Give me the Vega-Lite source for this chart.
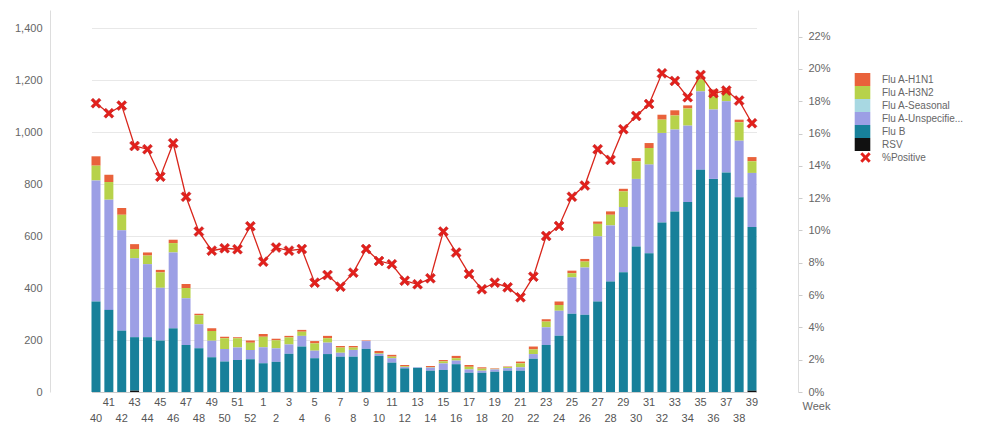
{
  "$schema": "https://vega.github.io/schema/vega-lite/v6.json",
  "autosize": "none",
  "width": 748,
  "height": 382,
  "padding": {"left": 50, "top": 10, "right": 188, "bottom": 35},
  "background": "white",
  "config": {
    "view": {"stroke": null},
    "font": "Liberation Sans",
    "legend": {"padding": 0}
  },
  "data": {
    "values": [
      {"week": 40, "Flu B": 348, "Flu A-Unspecified": 466, "Flu A-Seasonal": 0, "Flu A-H3N2": 57, "Flu A-H1N1": 36, "RSV": 0, "pct": 0.1788},
      {"week": 41, "Flu B": 316, "Flu A-Unspecified": 424, "Flu A-Seasonal": 0, "Flu A-H3N2": 68, "Flu A-H1N1": 28, "RSV": 0, "pct": 0.1726},
      {"week": 42, "Flu B": 236, "Flu A-Unspecified": 386, "Flu A-Seasonal": 0, "Flu A-H3N2": 60, "Flu A-H1N1": 26, "RSV": 0, "pct": 0.1773},
      {"week": 43, "Flu B": 206, "Flu A-Unspecified": 304, "Flu A-Seasonal": 0, "Flu A-H3N2": 35, "Flu A-H1N1": 19, "RSV": 5, "pct": 0.1523},
      {"week": 44, "Flu B": 211, "Flu A-Unspecified": 281, "Flu A-Seasonal": 0, "Flu A-H3N2": 33, "Flu A-H1N1": 12, "RSV": 0, "pct": 0.1503},
      {"week": 45, "Flu B": 198, "Flu A-Unspecified": 203, "Flu A-Seasonal": 0, "Flu A-H3N2": 59, "Flu A-H1N1": 10, "RSV": 0, "pct": 0.1333},
      {"week": 46, "Flu B": 245, "Flu A-Unspecified": 292, "Flu A-Seasonal": 0, "Flu A-H3N2": 36, "Flu A-H1N1": 13, "RSV": 0, "pct": 0.1540},
      {"week": 47, "Flu B": 181, "Flu A-Unspecified": 180, "Flu A-Seasonal": 0, "Flu A-H3N2": 39, "Flu A-H1N1": 16, "RSV": 0, "pct": 0.1209},
      {"week": 48, "Flu B": 168, "Flu A-Unspecified": 93, "Flu A-Seasonal": 0, "Flu A-H3N2": 34, "Flu A-H1N1": 6, "RSV": 0, "pct": 0.0993},
      {"week": 49, "Flu B": 134, "Flu A-Unspecified": 63, "Flu A-Seasonal": 0, "Flu A-H3N2": 38, "Flu A-H1N1": 10, "RSV": 0, "pct": 0.0875},
      {"week": 50, "Flu B": 117, "Flu A-Unspecified": 48, "Flu A-Seasonal": 0, "Flu A-H3N2": 42, "Flu A-H1N1": 6, "RSV": 0, "pct": 0.0890},
      {"week": 51, "Flu B": 123, "Flu A-Unspecified": 48, "Flu A-Seasonal": 0, "Flu A-H3N2": 36, "Flu A-H1N1": 4, "RSV": 0, "pct": 0.0884},
      {"week": 52, "Flu B": 126, "Flu A-Unspecified": 36, "Flu A-Seasonal": 0, "Flu A-H3N2": 28, "Flu A-H1N1": 8, "RSV": 0, "pct": 0.1026},
      {"week": 1, "Flu B": 111, "Flu A-Unspecified": 61, "Flu A-Seasonal": 0, "Flu A-H3N2": 41, "Flu A-H1N1": 10, "RSV": 0, "pct": 0.0807},
      {"week": 2, "Flu B": 116, "Flu A-Unspecified": 52, "Flu A-Seasonal": 0, "Flu A-H3N2": 31, "Flu A-H1N1": 6, "RSV": 0, "pct": 0.0894},
      {"week": 3, "Flu B": 147, "Flu A-Unspecified": 36, "Flu A-Seasonal": 0, "Flu A-H3N2": 27, "Flu A-H1N1": 6, "RSV": 0, "pct": 0.0875},
      {"week": 4, "Flu B": 175, "Flu A-Unspecified": 41, "Flu A-Seasonal": 0, "Flu A-H3N2": 16, "Flu A-H1N1": 7, "RSV": 0, "pct": 0.0885},
      {"week": 5, "Flu B": 130, "Flu A-Unspecified": 29, "Flu A-Seasonal": 0, "Flu A-H3N2": 28, "Flu A-H1N1": 9, "RSV": 0, "pct": 0.0677},
      {"week": 6, "Flu B": 146, "Flu A-Unspecified": 44, "Flu A-Seasonal": 0, "Flu A-H3N2": 17, "Flu A-H1N1": 9, "RSV": 0, "pct": 0.0724},
      {"week": 7, "Flu B": 136, "Flu A-Unspecified": 15, "Flu A-Seasonal": 0, "Flu A-H3N2": 20, "Flu A-H1N1": 6, "RSV": 0, "pct": 0.0652},
      {"week": 8, "Flu B": 136, "Flu A-Unspecified": 26, "Flu A-Seasonal": 0, "Flu A-H3N2": 9, "Flu A-H1N1": 6, "RSV": 0, "pct": 0.0739},
      {"week": 9, "Flu B": 166, "Flu A-Unspecified": 30, "Flu A-Seasonal": 0, "Flu A-H3N2": 0, "Flu A-H1N1": 2, "RSV": 0, "pct": 0.0885},
      {"week": 10, "Flu B": 139, "Flu A-Unspecified": 8, "Flu A-Seasonal": 0, "Flu A-H3N2": 3, "Flu A-H1N1": 8, "RSV": 0, "pct": 0.0811},
      {"week": 11, "Flu B": 113, "Flu A-Unspecified": 17, "Flu A-Seasonal": 0, "Flu A-H3N2": 6, "Flu A-H1N1": 7, "RSV": 0, "pct": 0.0791},
      {"week": 12, "Flu B": 91, "Flu A-Unspecified": 5, "Flu A-Seasonal": 0, "Flu A-H3N2": 3, "Flu A-H1N1": 5, "RSV": 0, "pct": 0.0689},
      {"week": 13, "Flu B": 93, "Flu A-Unspecified": 2, "Flu A-Seasonal": 0, "Flu A-H3N2": 0, "Flu A-H1N1": 0, "RSV": 0, "pct": 0.0667},
      {"week": 14, "Flu B": 82, "Flu A-Unspecified": 12, "Flu A-Seasonal": 0, "Flu A-H3N2": 2, "Flu A-H1N1": 4, "RSV": 0, "pct": 0.0704},
      {"week": 15, "Flu B": 85, "Flu A-Unspecified": 25, "Flu A-Seasonal": 0, "Flu A-H3N2": 8, "Flu A-H1N1": 5, "RSV": 0, "pct": 0.0993},
      {"week": 16, "Flu B": 107, "Flu A-Unspecified": 14, "Flu A-Seasonal": 0, "Flu A-H3N2": 9, "Flu A-H1N1": 9, "RSV": 0, "pct": 0.0863},
      {"week": 17, "Flu B": 74, "Flu A-Unspecified": 13, "Flu A-Seasonal": 0, "Flu A-H3N2": 10, "Flu A-H1N1": 7, "RSV": 0, "pct": 0.0731},
      {"week": 18, "Flu B": 74, "Flu A-Unspecified": 8, "Flu A-Seasonal": 0, "Flu A-H3N2": 8, "Flu A-H1N1": 5, "RSV": 0, "pct": 0.0636},
      {"week": 19, "Flu B": 78, "Flu A-Unspecified": 9, "Flu A-Seasonal": 0, "Flu A-H3N2": 2, "Flu A-H1N1": 2, "RSV": 0, "pct": 0.0677},
      {"week": 20, "Flu B": 82, "Flu A-Unspecified": 10, "Flu A-Seasonal": 0, "Flu A-H3N2": 4, "Flu A-H1N1": 2, "RSV": 0, "pct": 0.0648},
      {"week": 21, "Flu B": 82, "Flu A-Unspecified": 13, "Flu A-Seasonal": 0, "Flu A-H3N2": 15, "Flu A-H1N1": 7, "RSV": 0, "pct": 0.0586},
      {"week": 22, "Flu B": 128, "Flu A-Unspecified": 18, "Flu A-Seasonal": 0, "Flu A-H3N2": 18, "Flu A-H1N1": 11, "RSV": 0, "pct": 0.0714},
      {"week": 23, "Flu B": 181, "Flu A-Unspecified": 68, "Flu A-Seasonal": 0, "Flu A-H3N2": 22, "Flu A-H1N1": 9, "RSV": 0, "pct": 0.0966},
      {"week": 24, "Flu B": 216, "Flu A-Unspecified": 97, "Flu A-Seasonal": 0, "Flu A-H3N2": 22, "Flu A-H1N1": 13, "RSV": 0, "pct": 0.1028},
      {"week": 25, "Flu B": 301, "Flu A-Unspecified": 140, "Flu A-Seasonal": 0, "Flu A-H3N2": 16, "Flu A-H1N1": 10, "RSV": 0, "pct": 0.1209},
      {"week": 26, "Flu B": 297, "Flu A-Unspecified": 182, "Flu A-Seasonal": 0, "Flu A-H3N2": 23, "Flu A-H1N1": 10, "RSV": 0, "pct": 0.1278},
      {"week": 27, "Flu B": 348, "Flu A-Unspecified": 251, "Flu A-Seasonal": 0, "Flu A-H3N2": 48, "Flu A-H1N1": 9, "RSV": 0, "pct": 0.1503},
      {"week": 28, "Flu B": 425, "Flu A-Unspecified": 216, "Flu A-Seasonal": 0, "Flu A-H3N2": 41, "Flu A-H1N1": 13, "RSV": 0, "pct": 0.1437},
      {"week": 29, "Flu B": 461, "Flu A-Unspecified": 251, "Flu A-Seasonal": 0, "Flu A-H3N2": 60, "Flu A-H1N1": 10, "RSV": 0, "pct": 0.1627},
      {"week": 30, "Flu B": 560, "Flu A-Unspecified": 260, "Flu A-Seasonal": 0, "Flu A-H3N2": 68, "Flu A-H1N1": 12, "RSV": 0, "pct": 0.1709},
      {"week": 31, "Flu B": 534, "Flu A-Unspecified": 341, "Flu A-Seasonal": 0, "Flu A-H3N2": 64, "Flu A-H1N1": 19, "RSV": 0, "pct": 0.1783},
      {"week": 32, "Flu B": 652, "Flu A-Unspecified": 345, "Flu A-Seasonal": 0, "Flu A-H3N2": 51, "Flu A-H1N1": 19, "RSV": 0, "pct": 0.1973},
      {"week": 33, "Flu B": 695, "Flu A-Unspecified": 315, "Flu A-Seasonal": 0, "Flu A-H3N2": 54, "Flu A-H1N1": 20, "RSV": 0, "pct": 0.1926},
      {"week": 34, "Flu B": 731, "Flu A-Unspecified": 294, "Flu A-Seasonal": 0, "Flu A-H3N2": 66, "Flu A-H1N1": 12, "RSV": 0, "pct": 0.1825},
      {"week": 35, "Flu B": 855, "Flu A-Unspecified": 302, "Flu A-Seasonal": 0, "Flu A-H3N2": 45, "Flu A-H1N1": 9, "RSV": 0, "pct": 0.1963},
      {"week": 36, "Flu B": 820, "Flu A-Unspecified": 267, "Flu A-Seasonal": 0, "Flu A-H3N2": 51, "Flu A-H1N1": 26, "RSV": 0, "pct": 0.1850},
      {"week": 37, "Flu B": 845, "Flu A-Unspecified": 274, "Flu A-Seasonal": 0, "Flu A-H3N2": 32, "Flu A-H1N1": 15, "RSV": 0, "pct": 0.1866},
      {"week": 38, "Flu B": 749, "Flu A-Unspecified": 218, "Flu A-Seasonal": 0, "Flu A-H3N2": 71, "Flu A-H1N1": 10, "RSV": 0, "pct": 0.1804},
      {"week": 39, "Flu B": 630, "Flu A-Unspecified": 208, "Flu A-Seasonal": 0, "Flu A-H3N2": 45, "Flu A-H1N1": 16, "RSV": 5, "pct": 0.1664}
    ]
  },
  "encoding": {
    "x": {
      "field": "week",
      "type": "ordinal",
      "scale": {
        "type": "band",
        "domain": [40, 41, 42, 43, 44, 45, 46, 47, 48, 49, 50, 51, 52, 1, 2, 3, 4, 5, 6, 7, 8, 9, 10, 11, 12, 13, 14, 15, 16, 17, 18, 19, 20, 21, 22, 23, 24, 25, 26, 27, 28, 29, 30, 31, 32, 33, 34, 35, 36, 37, 38, 39],
        "range": [41.5, 706.5],
        "paddingInner": 0.3,
        "paddingOuter": 0
      },
      "axis": {
        "title": "Week",
        "titleX": 752,
        "titleY": 14,
        "titleAlign": "left",
        "titleAnchor": null,
        "titleBaseline": "middle",
        "titleFontSize": 11,
        "titleFontWeight": "normal",
        "titleColor": "#666666",
        "labelAngle": 0,
        "ticks": false,
        "domain": false,
        "labelColor": "#555555",
        "labelFontSize": 11,
        "labelOverlap": false,
        "labelBaseline": "top",
        "labelPadding": {"condition": {"test": "datum.value % 2 === 0", "value": 20}, "value": 4},
        "grid": false
      }
    }
  },
  "layer": [
    {
      "transform": [
        {"fold": ["Flu A-H1N1", "Flu A-H3N2", "Flu A-Seasonal", "Flu A-Unspecified", "Flu B", "RSV"], "as": ["type", "count"]}
      ],
      "mark": {"type": "bar"},
      "encoding": {
        "y": {
          "field": "count",
          "type": "quantitative",
          "stack": "zero",
          "scale": {"domain": [0, 1470], "nice": false},
          "axis": {
            "values": [0, 200, 400, 600, 800, 1000, 1200, 1400],
            "format": ",.0f",
            "title": null,
            "ticks": false,
            "labelPadding": 8,
            "domainColor": "#dddddd",
            "gridColor": {"condition": {"test": "datum.value === 0", "value": "#cccccc"}, "value": "#e8e8e8"},
            "labelColor": "#666666",
            "labelFontSize": 11,
            "grid": true
          }
        },
        "color": {
          "field": "type",
          "type": "nominal",
          "scale": {
            "domain": ["Flu A-H1N1", "Flu A-H3N2", "Flu A-Seasonal", "Flu A-Unspecified", "Flu B", "RSV"],
            "range": ["#e9623b", "#b7d24a", "#a8d8e2", "#9c9fe5", "#17809a", "#111111"]
          },
          "legend": {
            "orient": "none",
            "legendX": 806,
            "legendY": 63,
            "title": null,
            "symbolType": "M-1.2,-1H1.2V1H-1.2Z",
            "symbolSize": 169,
            "symbolStrokeWidth": 0,
            "symbolOpacity": 1,
            "rowPadding": 0,
            "labelFontSize": 10,
            "labelColor": "#666666",
            "labelOffset": 13,
            "labelExpr": "datum.label == 'Flu A-Unspecified' ? 'Flu A-Unspecifie...' : datum.label"
          }
        },
        "order": {"field": "type", "sort": "descending"}
      }
    },
    {
      "encoding": {
        "y": {
          "field": "pct",
          "type": "quantitative",
          "scale": {"domain": [0, 0.2365], "nice": false},
          "axis": {
            "orient": "right",
            "values": [0, 0.02, 0.04, 0.06, 0.08, 0.1, 0.12, 0.14, 0.16, 0.18, 0.2, 0.22],
            "format": ".0%",
            "title": null,
            "grid": false,
            "tickSize": 4,
            "tickColor": "#cccccc",
            "labelPadding": 6,
            "domainColor": "#dddddd",
            "labelColor": "#666666",
            "labelFontSize": 11
          }
        }
      },
      "layer": [
        {"mark": {"type": "line", "color": "#d9261c", "strokeWidth": 1.3}},
        {
          "mark": {"type": "point", "filled": true, "color": "#e3201b", "opacity": 1, "size": 100, "stroke": "#b8161a", "strokeWidth": 0.5},
          "encoding": {
            "shape": {
              "datum": "%Positive",
              "scale": {"domain": ["%Positive"], "range": ["M0,-0.4L0.6,-1L1,-0.6L0.4,0L1,0.6L0.6,1L0,0.4L-0.6,1L-1,0.6L-0.4,0L-1,-0.6L-0.6,-1Z"]},
              "legend": {
                "orient": "none",
                "legendX": 810,
                "legendY": 142,
                "title": null,
                "symbolSize": 110,
                "symbolFillColor": "#e3201b",
                "symbolStrokeColor": "#b8161a",
                "symbolStrokeWidth": 0.5,
                "labelFontSize": 10,
                "labelColor": "#666666",
                "labelOffset": 11
              }
            }
          }
        }
      ]
    }
  ],
  "resolve": {"scale": {"y": "independent"}}
}
